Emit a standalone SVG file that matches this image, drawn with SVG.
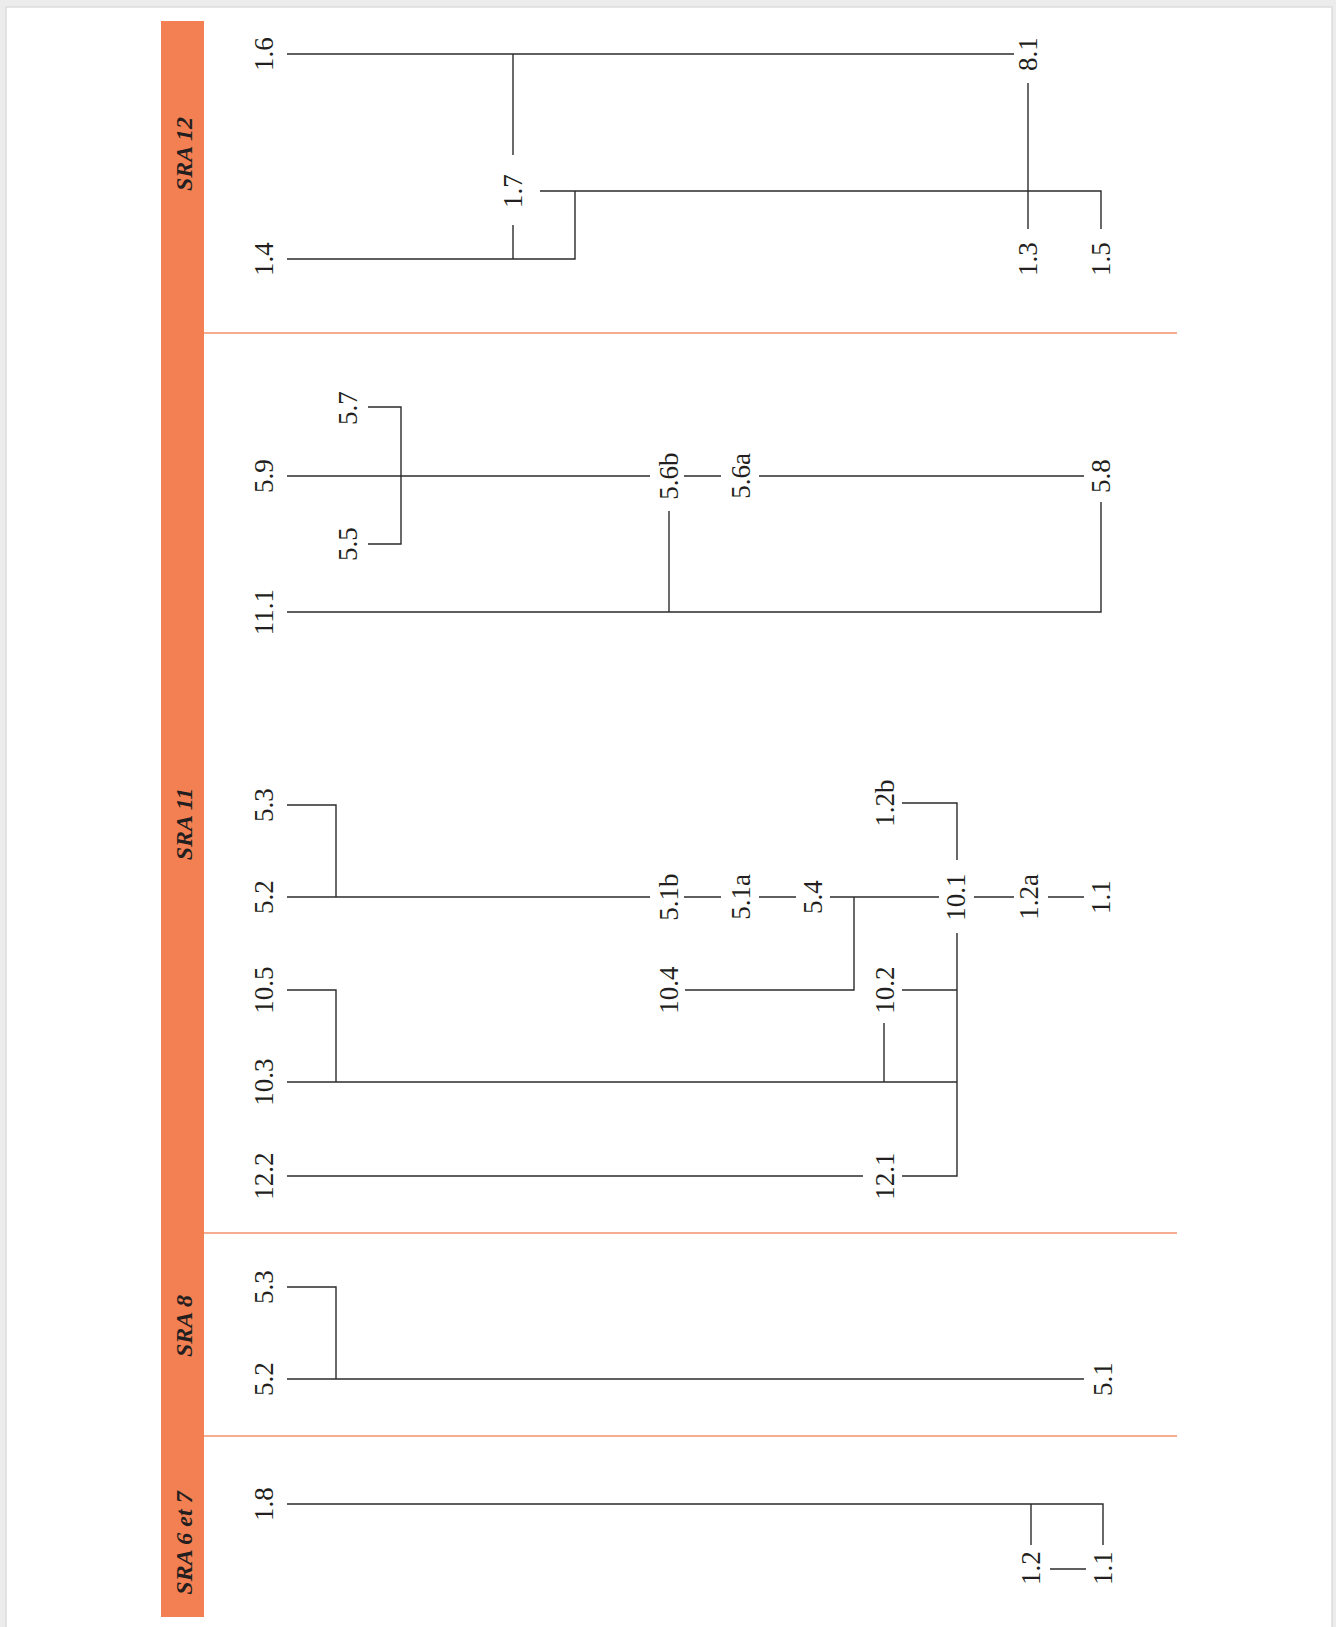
<svg xmlns="http://www.w3.org/2000/svg" width="1336" height="1627" viewBox="0 0 1336 1627">
<style>
.lbl{font-family:"Liberation Serif","Times New Roman",serif;font-size:27px;fill:#231f20;text-anchor:middle}
.sra{font-family:"Liberation Serif","Times New Roman",serif;font-size:24px;font-weight:bold;font-style:italic;fill:#231f20;text-anchor:middle}
.ln{fill:none;stroke:#2b2b2b;stroke-width:1.4}
.sep{stroke:#f3906d;stroke-width:1.3}
</style>
<rect x="0" y="0" width="1336" height="1627" fill="#ececec"/>
<rect x="6" y="7" width="1326" height="1625" fill="#ffffff" stroke="#dcdcdc" stroke-width="1.5"/>
<g id="bar">
<rect x="161" y="21" width="43" height="1596" fill="#f38053"/>
<text class="sra" transform="translate(192,154) rotate(-90)">SRA 12</text>
<text class="sra" transform="translate(192,824) rotate(-90)">SRA 11</text>
<text class="sra" transform="translate(192,1326) rotate(-90)">SRA 8</text>
<text class="sra" transform="translate(192,1543) rotate(-90)">SRA 6 et 7</text>
</g>
<g id="separators">
<line class="sep" x1="204" y1="333" x2="1177" y2="333"/>
<line class="sep" x1="204" y1="1233" x2="1177" y2="1233"/>
<line class="sep" x1="204" y1="1436" x2="1177" y2="1436"/>
</g>
<g id="connectors">
<path class="ln" d="M287,54 H1014"/>
<path class="ln" d="M513,54 V155"/>
<path class="ln" d="M513,225 V259"/>
<path class="ln" d="M287,259 H575 V191"/>
<path class="ln" d="M540,191 H1101 V229"/>
<path class="ln" d="M1028,83 V229"/>
<path class="ln" d="M287,476 H650"/>
<path class="ln" d="M368,407 H401 V544 H368"/>
<path class="ln" d="M684,476 H721"/>
<path class="ln" d="M759,476 H1084"/>
<path class="ln" d="M669,511 V612"/>
<path class="ln" d="M287,612 H1101 V502"/>
<path class="ln" d="M287,805 H336 V897"/>
<path class="ln" d="M287,897 H650"/>
<path class="ln" d="M684,897 H721"/>
<path class="ln" d="M759,897 H796"/>
<path class="ln" d="M830,897 H939"/>
<path class="ln" d="M854,897 V990 H685"/>
<path class="ln" d="M974,897 H1014"/>
<path class="ln" d="M1048,897 H1084"/>
<path class="ln" d="M902,803 H957 V860"/>
<path class="ln" d="M957,933 V1176 H902"/>
<path class="ln" d="M902,990 H957"/>
<path class="ln" d="M287,990 H336 V1082"/>
<path class="ln" d="M287,1082 H957"/>
<path class="ln" d="M884,1023 V1082"/>
<path class="ln" d="M287,1176 H863"/>
<path class="ln" d="M287,1287 H336 V1379"/>
<path class="ln" d="M287,1379 H1084"/>
<path class="ln" d="M287,1504 H1103 V1545"/>
<path class="ln" d="M1031,1504 V1545"/>
<path class="ln" d="M1050,1569 H1086"/>
</g>
<g id="n12-1.6"><text class="lbl" transform="translate(273,54) rotate(-90)">1.6</text></g>
<g id="n12-1.4"><text class="lbl" transform="translate(273,259) rotate(-90)">1.4</text></g>
<g id="n12-1.7"><text class="lbl" transform="translate(522,191) rotate(-90)">1.7</text></g>
<g id="n12-8.1"><text class="lbl" transform="translate(1037,54) rotate(-90)">8.1</text></g>
<g id="n12-1.3"><text class="lbl" transform="translate(1037,259) rotate(-90)">1.3</text></g>
<g id="n12-1.5"><text class="lbl" transform="translate(1110,259) rotate(-90)">1.5</text></g>
<g id="n11-5.7"><text class="lbl" transform="translate(357,408) rotate(-90)">5.7</text></g>
<g id="n11-5.9"><text class="lbl" transform="translate(273,476) rotate(-90)">5.9</text></g>
<g id="n11-5.5"><text class="lbl" transform="translate(357,544) rotate(-90)">5.5</text></g>
<g id="n11-11.1"><text class="lbl" transform="translate(273,612) rotate(-90)">11.1</text></g>
<g id="n11-5.6b"><text class="lbl" transform="translate(678,476) rotate(-90)">5.6b</text></g>
<g id="n11-5.6a"><text class="lbl" transform="translate(750,476) rotate(-90)">5.6a</text></g>
<g id="n11-5.8"><text class="lbl" transform="translate(1110,476) rotate(-90)">5.8</text></g>
<g id="n11-5.3"><text class="lbl" transform="translate(273,805) rotate(-90)">5.3</text></g>
<g id="n11-5.2"><text class="lbl" transform="translate(273,897) rotate(-90)">5.2</text></g>
<g id="n11-10.5"><text class="lbl" transform="translate(273,990) rotate(-90)">10.5</text></g>
<g id="n11-10.3"><text class="lbl" transform="translate(273,1082) rotate(-90)">10.3</text></g>
<g id="n11-12.2"><text class="lbl" transform="translate(273,1176) rotate(-90)">12.2</text></g>
<g id="n11-5.1b"><text class="lbl" transform="translate(678,897) rotate(-90)">5.1b</text></g>
<g id="n11-5.1a"><text class="lbl" transform="translate(750,897) rotate(-90)">5.1a</text></g>
<g id="n11-5.4"><text class="lbl" transform="translate(822,897) rotate(-90)">5.4</text></g>
<g id="n11-10.1"><text class="lbl" transform="translate(965,897) rotate(-90)">10.1</text></g>
<g id="n11-1.2a"><text class="lbl" transform="translate(1038,897) rotate(-90)">1.2a</text></g>
<g id="n11-1.1"><text class="lbl" transform="translate(1110,897) rotate(-90)">1.1</text></g>
<g id="n11-10.4"><text class="lbl" transform="translate(678,990) rotate(-90)">10.4</text></g>
<g id="n11-1.2b"><text class="lbl" transform="translate(894,803) rotate(-90)">1.2b</text></g>
<g id="n11-10.2"><text class="lbl" transform="translate(894,990) rotate(-90)">10.2</text></g>
<g id="n11-12.1"><text class="lbl" transform="translate(894,1176) rotate(-90)">12.1</text></g>
<g id="n8-5.3"><text class="lbl" transform="translate(273,1287) rotate(-90)">5.3</text></g>
<g id="n8-5.2"><text class="lbl" transform="translate(273,1379) rotate(-90)">5.2</text></g>
<g id="n8-5.1"><text class="lbl" transform="translate(1112,1379) rotate(-90)">5.1</text></g>
<g id="n67-1.8"><text class="lbl" transform="translate(273,1504) rotate(-90)">1.8</text></g>
<g id="n67-1.2"><text class="lbl" transform="translate(1040,1568) rotate(-90)">1.2</text></g>
<g id="n67-1.1"><text class="lbl" transform="translate(1112,1568) rotate(-90)">1.1</text></g>
</svg>
